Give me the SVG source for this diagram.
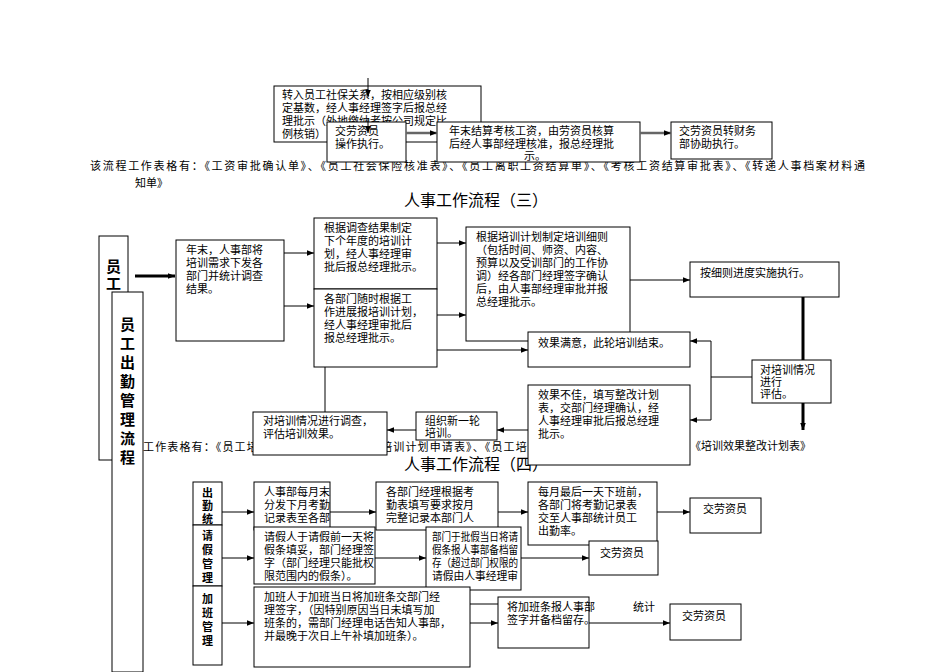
<svg xmlns="http://www.w3.org/2000/svg" width="950" height="672" viewBox="0 0 950 672">
<style>
text{font-family:"Liberation Serif","Noto Sans CJK SC",serif;font-size:11px;fill:#000}
.b{fill:#fff;stroke:#000;stroke-width:1}
.l{stroke:#000;stroke-width:1;fill:none}
.g{stroke:#666;stroke-width:2.5;fill:none}
.t{stroke:#000;stroke-width:3;fill:none}
.v{font-family:"Noto Sans CJK SC",sans-serif;font-size:15px;font-weight:bold}
.s{font-family:"Noto Sans CJK SC",sans-serif;font-size:11px;font-weight:bold}
.h{font-size:16px}
</style>
<defs>
<marker id="a" viewBox="0 0 10 10" refX="10" refY="5" markerWidth="7" markerHeight="7" orient="auto" markerUnits="userSpaceOnUse"><path d="M0,1L10,5L0,9z" fill="#000"/></marker>
</defs>
<text x="90" y="170" textLength="775" lengthAdjust="spacing">该流程工作表格有：《工资审批确认单》、《员工社会保险核准表》、《员工离职工资结算单》、《考核工资结算审批表》、《转递人事档案材料通</text>
<text x="135" y="187">知单》</text>
<text class="h" x="404" y="206">人事工作流程（三）</text>
<text x="143" y="451" textLength="420" lengthAdjust="spacing">工作表格有：《员工培训需求调查表》、《员工培训计划申请表》、《员工培训计划</text>
<text class="h" x="404" y="470">人事工作流程（四）</text>
<g id="top">
<g id="n1"><rect class="b" x="274" y="86" width="207" height="56"/><text x="282" y="99">转入员工社保关系，按相应级别核</text><text x="282" y="112">定基数，经人事经理签字后报总经</text><text x="282" y="125">理批示（外地缴纳者按公司规定比</text><text x="282" y="138">例核销）</text></g>
<g id="n2"><rect class="b" x="327" y="122" width="79" height="40"/><text x="335" y="135">交劳资员</text><text x="335" y="148">操作执行。</text></g>
<g id="n3"><rect class="b" x="437" y="122" width="203" height="40"/><text x="449" y="135">年末结算考核工资，由劳资员核算</text><text x="449" y="148">后经人事部经理核准，报总经理批</text><text x="524" y="160">示。</text></g>
<g id="n4"><rect class="b" x="671" y="122" width="101" height="37"/><text x="679" y="135">交劳资员转财务</text><text x="679" y="148">部协助执行。</text></g>
</g>
<g id="mid">
<g id="v1"><rect class="b" x="99" y="236" width="29" height="224"/><text class="v" x="106" y="272">员</text><text class="v" x="106" y="289">工</text></g>
<g id="v2"><rect class="b" x="112" y="292" width="31" height="380"/><text class="v" x="120" y="330">员</text><text class="v" x="120" y="349">工</text><text class="v" x="120" y="368">出</text><text class="v" x="120" y="387">勤</text><text class="v" x="120" y="406">管</text><text class="v" x="120" y="425">理</text><text class="v" x="120" y="444">流</text><text class="v" x="120" y="463">程</text></g>
<g id="m1"><rect class="b" x="176" y="240" width="108" height="101"/><text x="186" y="254">年末，人事部将</text><text x="186" y="267">培训需求下发各</text><text x="186" y="280">部门并统计调查</text><text x="186" y="293">结果。</text></g>
<g id="m2"><rect class="b" x="314" y="218" width="123" height="71"/><text x="324" y="232">根据调查结果制定</text><text x="324" y="245">下个年度的培训计</text><text x="324" y="258">划，经人事经理审</text><text x="324" y="271">批后报总经理批示。</text></g>
<g id="m3"><rect class="b" x="314" y="289" width="123" height="78"/><text x="324" y="303">各部门随时根据工</text><text x="324" y="316">作进展报培训计划，</text><text x="324" y="329">经人事经理审批后</text><text x="324" y="342">报总经理批示。</text></g>
<g id="m4"><rect class="b" x="466" y="227" width="164" height="114"/><text x="476" y="241">根据培训计划制定培训细则</text><text x="476" y="254">（包括时间、师资、内容、</text><text x="476" y="267">预算以及受训部门的工作协</text><text x="476" y="280">调）经各部门经理签字确认</text><text x="476" y="293">后，由人事部经理审批并报</text><text x="476" y="306">总经理批示。</text></g>
<g id="m5"><rect class="b" x="690" y="262" width="149" height="35"/><text x="700" y="277">按细则进度实施执行。</text></g>
<g id="m6"><rect class="b" x="528" y="332" width="162" height="35"/><text x="538" y="347">效果满意，此轮培训结束。</text></g>
<g id="m7"><rect class="b" x="752" y="360" width="79" height="43"/><text x="760" y="374">对培训情况</text><text x="760" y="386">进行</text><text x="760" y="398">评估。</text></g>
<g id="m8"><rect class="b" x="528" y="385" width="162" height="80"/><text x="538" y="399">效果不佳，填写整改计划</text><text x="538" y="412">表，交部门经理确认，经</text><text x="538" y="425">人事经理审批后报总经理</text><text x="538" y="438">批示。</text></g>
<g id="m9"><rect class="b" x="416" y="412" width="81" height="28"/><text x="425" y="425">组织新一轮</text><text x="425" y="437">培训。</text></g>
<g id="m10"><rect class="b" x="253" y="412" width="134" height="43"/><text x="263" y="425">对培训情况进行调查，</text><text x="263" y="438">评估培训效果。</text></g>
<text x="690" y="450">《培训效果整改计划表》</text>
</g>
<g id="bot">
<g id="k1"><rect class="b" x="193" y="482" width="29" height="43"/><text class="s" x="202" y="497">出</text><text class="s" x="202" y="510">勤</text><text class="s" x="202" y="523">统</text></g>
<g id="k2"><rect class="b" x="193" y="525" width="29" height="61"/><text class="s" x="202" y="540">请</text><text class="s" x="202" y="554">假</text><text class="s" x="202" y="568">管</text><text class="s" x="202" y="582">理</text></g>
<g id="k3"><rect class="b" x="193" y="586" width="29" height="79"/><text class="s" x="202" y="603">加</text><text class="s" x="202" y="617">班</text><text class="s" x="202" y="631">管</text><text class="s" x="202" y="645">理</text></g>
<g id="r1"><rect class="b" x="254" y="482" width="76" height="48"/><text x="264" y="496">人事部每月末</text><text x="264" y="509">分发下月考勤</text><text x="264" y="522">记录表至各部</text></g>
<g id="r2"><rect class="b" x="376" y="482" width="122" height="48"/><text x="386" y="496">各部门经理根据考</text><text x="386" y="509">勤表填写要求按月</text><text x="386" y="522">完整记录本部门人</text></g>
<g id="r3"><rect class="b" x="528" y="482" width="129" height="63"/><text x="538" y="496">每月最后一天下班前，</text><text x="538" y="509">各部门将考勤记录表</text><text x="538" y="522">交至人事部统计员工</text><text x="538" y="535">出勤率。</text></g>
<g id="r4"><rect class="b" x="690" y="498" width="71" height="35"/><text x="703" y="513">交劳资员</text></g>
<g id="q1"><rect class="b" x="254" y="527" width="121" height="57"/><text x="264" y="541">请假人于请假前一天将</text><text x="264" y="554">假条填妥，部门经理签</text><text x="264" y="567">字（部门经理只能批权</text><text x="264" y="580">限范围内的假条）。</text></g>
<g id="q2"><rect class="b" x="426" y="527" width="95" height="63"/><text x="432" y="541" textLength="86" lengthAdjust="spacingAndGlyphs">部门于批假当日将请</text><text x="432" y="554" textLength="86" lengthAdjust="spacingAndGlyphs">假条报人事部备档留</text><text x="432" y="567" textLength="86" lengthAdjust="spacingAndGlyphs">存（超过部门权限的</text><text x="432" y="580" textLength="86" lengthAdjust="spacingAndGlyphs">请假由人事经理审</text></g>
<g id="q3"><rect class="b" x="589" y="541" width="69" height="34"/><text x="600" y="557">交劳资员</text></g>
<g id="w1"><rect class="b" x="254" y="587" width="216" height="80"/><text x="264" y="601">加班人于加班当日将加班条交部门经</text><text x="264" y="614">理签字，（因特别原因当日未填写加</text><text x="264" y="627">班条的，需部门经理电话告知人事部，</text><text x="264" y="640">并最晚于次日上午补填加班条）。</text></g>
<g id="w2"><rect class="b" x="498" y="597" width="91" height="51"/><text x="507" y="611">将加班条报人事部</text><text x="507" y="624">签字并备档留存。</text></g>
<text x="633" y="611">统计</text>
<g id="w3"><rect class="b" x="670" y="604" width="71" height="36"/><text x="682" y="620">交劳资员</text></g>
</g>
<g id="connectors">
<line class="l" x1="368" y1="78" x2="368" y2="97" marker-end="url(#a)"/>
<line class="l" x1="368" y1="118" x2="368" y2="133" marker-end="url(#a)"/>
<line class="g" x1="406" y1="133" x2="437" y2="133" marker-end="url(#a)"/>
<line class="g" x1="640" y1="133" x2="671" y2="133" marker-end="url(#a)"/>
<line class="t" x1="135" y1="276" x2="175" y2="276" marker-end="url(#a)"/>
<line class="l" x1="284" y1="253" x2="314" y2="253" marker-end="url(#a)"/>
<line class="l" x1="284" y1="306" x2="314" y2="306" marker-end="url(#a)"/>
<line class="l" x1="437" y1="243" x2="466" y2="243" marker-end="url(#a)"/>
<line class="l" x1="437" y1="315" x2="466" y2="315" marker-end="url(#a)"/>
<line class="l" x1="630" y1="280" x2="690" y2="280" marker-end="url(#a)"/>
<line class="l" x1="437" y1="350" x2="528" y2="350" marker-end="url(#a)"/>
<line class="t" x1="803" y1="297" x2="803" y2="360"/>
<line class="t" x1="803" y1="403" x2="803" y2="430" marker-end="url(#a)"/>
<polyline class="l" points="752,377 711,377"/>
<polyline class="l" points="711,341 711,420"/>
<line class="l" x1="711" y1="341" x2="690" y2="341" marker-end="url(#a)"/>
<line class="l" x1="711" y1="420" x2="690" y2="420" marker-end="url(#a)"/>
<line class="l" x1="528" y1="430" x2="497" y2="430" marker-end="url(#a)"/>
<line class="l" x1="416" y1="430" x2="387" y2="430" marker-end="url(#a)"/>
<line class="l" x1="325" y1="367" x2="325" y2="412"/>
<line class="l" x1="222" y1="512" x2="254" y2="512" marker-end="url(#a)"/>
<line class="l" x1="330" y1="512" x2="376" y2="512" marker-end="url(#a)"/>
<line class="l" x1="498" y1="512" x2="528" y2="512" marker-end="url(#a)"/>
<line class="l" x1="657" y1="512" x2="690" y2="512" marker-end="url(#a)"/>
<line class="l" x1="222" y1="558" x2="254" y2="558" marker-end="url(#a)"/>
<line class="l" x1="375" y1="558" x2="426" y2="558" marker-end="url(#a)"/>
<line class="l" x1="521" y1="558" x2="589" y2="558" marker-end="url(#a)"/>
<line class="l" x1="222" y1="623" x2="254" y2="623" marker-end="url(#a)"/>
<line class="l" x1="470" y1="623" x2="498" y2="623" marker-end="url(#a)"/>
<line class="l" x1="470" y1="604" x2="498" y2="604"/>
<line class="l" x1="589" y1="623" x2="670" y2="623" marker-end="url(#a)"/>
</g>
</svg>
